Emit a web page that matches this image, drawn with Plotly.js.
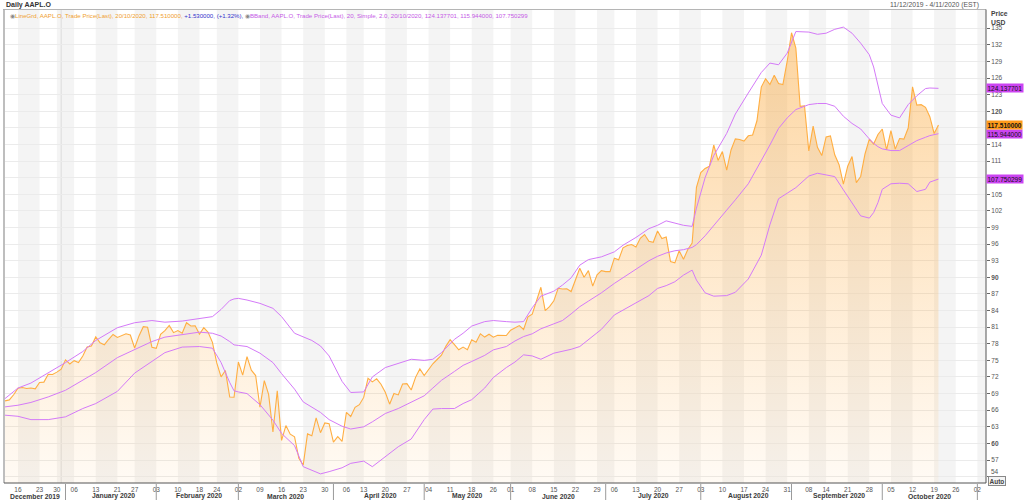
<!DOCTYPE html>
<html><head><meta charset="utf-8">
<script src="https://cdn.plot.ly/plotly-3.0.1.min.js"></script>
<style>html,body{margin:0;padding:0;background:#fff;}#chart{width:1024px;height:501px;}</style>
</head><body><div id="chart"></div>
<script>
// ---------- data ----------
const startDate = '2019-12-11';
const endDate = '2020-11-04';
const holidays = ['2019-12-25','2020-01-01','2020-01-20','2020-02-17','2020-04-10','2020-05-25','2020-07-03','2020-09-07'];

// AAPL.O daily trade price (last), one value per trading day from 2019-12-11
const closePrice = [
 67.69,67.86,68.79,69.96,70.10,69.93,70.01,69.86,71.00,71.07,72.48,72.45,72.88,73.41,
 75.09,74.36,74.95,74.60,75.80,77.41,77.58,79.24,78.17,77.83,78.81,79.68,79.14,79.43,79.81,79.58,77.24,79.42,81.08,80.97,77.38,
 77.17,79.71,80.36,81.30,80.01,80.39,79.90,81.80,81.22,81.24,79.75,80.90,80.08,78.26,74.54,72.02,73.16,68.38,68.34,
 74.70,72.33,75.68,73.23,72.26,66.54,71.33,68.86,62.06,69.49,60.55,63.22,61.67,61.19,57.31,56.09,61.72,61.38,64.61,61.94,63.70,63.57,
 60.23,61.23,60.35,65.62,64.86,66.52,67.00,68.31,71.76,71.11,71.67,70.70,69.23,67.09,69.03,68.76,70.74,70.79,69.65,71.93,73.45,
 72.27,73.29,74.39,75.16,75.94,77.53,78.75,77.85,76.91,77.39,76.93,78.74,78.29,79.81,79.21,79.72,79.18,79.53,79.56,79.49,
 80.46,80.83,81.28,80.58,82.88,83.36,86.00,88.21,83.97,84.70,85.75,88.02,87.90,87.93,87.43,89.72,91.63,90.01,91.21,88.41,90.45,91.20,
 91.03,91.03,93.46,93.17,95.34,95.75,95.92,95.48,97.06,97.73,96.52,96.33,98.36,97.00,97.27,92.85,92.62,94.81,93.25,95.04,96.19,106.26,
 108.94,109.67,110.06,113.90,111.11,112.73,109.38,113.01,115.01,114.91,114.61,115.56,115.71,118.28,124.37,125.86,124.83,126.52,125.01,124.81,129.04,
 134.18,131.40,120.88,120.96,112.82,117.32,113.49,112.00,115.36,115.54,112.13,110.34,106.84,110.08,111.81,107.12,108.22,112.28,114.96,114.09,115.81,
 116.79,113.02,116.50,113.16,115.08,114.97,116.97,124.40,121.10,121.19,120.71,119.02,115.98,117.51
];

// Bollinger band (20, Simple, 2.0) values
const bandDates = [
 '2019-12-11','2019-12-16','2019-12-19','2019-12-26','2020-01-02','2020-01-08','2020-01-13','2020-01-21','2020-01-27','2020-01-31',
 '2020-02-05','2020-02-11','2020-02-18','2020-02-21','2020-02-25','2020-02-27','2020-02-28','2020-03-02','2020-03-04','2020-03-09',
 '2020-03-12','2020-03-16','2020-03-19','2020-03-23','2020-03-25','2020-03-27','2020-03-31','2020-04-03','2020-04-07','2020-04-13',
 '2020-04-15','2020-04-20','2020-04-23','2020-04-28','2020-05-01','2020-05-05','2020-05-07','2020-05-12','2020-05-14','2020-05-18',
 '2020-05-21','2020-05-26','2020-05-29','2020-06-02','2020-06-04','2020-06-08','2020-06-10','2020-06-15','2020-06-17','2020-06-19',
 '2020-06-23','2020-06-25','2020-06-30','2020-07-06','2020-07-08','2020-07-13','2020-07-16','2020-07-20','2020-07-22','2020-07-24',
 '2020-07-28','2020-07-30','2020-07-31','2020-08-04','2020-08-06','2020-08-11','2020-08-13','2020-08-18','2020-08-21','2020-08-25',
 '2020-08-27','2020-08-31','2020-09-02','2020-09-08','2020-09-10','2020-09-14','2020-09-16','2020-09-18','2020-09-22','2020-09-24',
 '2020-09-28','2020-09-29','2020-09-30','2020-10-01','2020-10-05','2020-10-07','2020-10-09','2020-10-13','2020-10-15','2020-10-16',
 '2020-10-20'
];
const upperBand = [
 68.1,70.0,70.9,72.7,74.6,76.6,78.6,80.9,81.8,82.2,
 81.9,82.1,82.6,82.9,84.2,85.8,86.1,86.2,85.9,85.3,
 84.4,82.9,79.9,79.2,78.6,77.6,75.8,71.2,69.2,69.3,
 72.0,73.7,74.5,75.2,75.0,75.2,76.4,78.8,79.9,81.2,
 82.0,82.2,82.0,81.9,82.0,84.5,86.6,87.5,88.6,89.9,
 92.2,93.2,93.7,94.6,95.8,97.2,98.8,99.4,100.2,99.8,
 99.4,99.2,102.5,108.0,112.0,116.0,119.5,123.3,127.0,128.7,
 128.4,130.5,134.4,134.3,133.9,134.1,134.8,135.2,134.1,132.3,
 130.2,128.0,124.8,121.4,119.3,118.8,121.2,122.8,124.1,124.2,
 124.137701
];
const middleBand = [
 66.6,66.9,67.4,68.4,69.6,71.4,72.8,75.5,77.0,78.4,
 79.2,79.7,80.1,79.9,79.4,78.4,77.8,77.7,77.5,76.3,
 74.6,72.6,69.8,67.5,66.6,65.6,64.3,63.1,62.6,63.0,
 63.9,65.4,66.3,67.4,68.6,70.0,71.4,73.0,74.1,74.8,
 75.9,76.9,77.5,78.5,79.3,79.8,80.7,81.6,82.2,83.4,
 84.7,85.7,87.2,88.9,89.9,91.4,93.0,93.8,94.4,94.8,
 95.0,95.4,95.9,97.5,99.3,102.2,104.0,106.9,111.0,113.9,
 116.9,118.8,120.3,121.2,121.4,121.4,120.9,119.1,117.8,116.8,
 115.0,114.2,113.6,113.2,112.9,112.9,113.8,114.7,115.3,115.6,
 115.944
];
const lowerBand = [
 65.1,64.9,64.3,64.3,64.8,66.3,67.2,69.4,72.7,74.9,
 76.4,77.4,77.5,77.2,74.6,71.0,69.5,69.3,69.0,67.0,
 64.2,61.8,59.6,55.8,55.1,54.5,54.9,55.6,56.4,56.8,
 55.8,57.6,59.4,60.8,64.3,66.2,66.3,66.3,67.2,67.9,
 70.0,71.9,73.7,74.7,76.0,75.8,75.2,76.3,76.6,77.0,
 77.5,78.8,80.6,83.2,84.1,85.4,86.7,88.0,88.5,89.2,
 90.4,91.3,89.5,87.2,86.6,86.7,87.3,89.7,94.0,99.5,
 104.2,105.2,106.2,108.3,108.8,108.5,108.2,105.8,103.4,101.1,
 100.7,101.7,103.5,105.9,106.9,107.0,106.9,105.5,105.9,107.2,
 107.750299
];

const lastDateLabel = '20/10/2020';
const lastPrice = 117.51;
const lastChange = 1.53;
const lastChangePct = 1.32;
const lastUpper = 124.137701;
const lastMiddle = 115.944;
const lastLower = 107.750299;
const yTickValues = [54,57,60,63,66,69,72,75,78,81,84,87,90,93,96,99,102,105,108,111,114,117,120,123,126,129,132,135];
const yTicksHiddenByTags = [108, 117];
const monthNames = ['January','February','March','April','May','June','July','August','September','October','November','December'];

// ---------- helpers ----------
function tradingDays(a, b, hol) {
  const out = [];
  const d = new Date(a + 'T00:00:00Z');
  const e = new Date(b + 'T00:00:00Z');
  while (d <= e) {
    const s = d.toISOString().slice(0, 10);
    const w = d.getUTCDay();
    if (w !== 0 && w !== 6 && hol.indexOf(s) < 0) out.push(s);
    d.setUTCDate(d.getUTCDate() + 1);
  }
  return out;
}
const allDays = tradingDays(startDate, endDate, holidays);
const priceDates = allDays.slice(0, closePrice.length);

const weekStarts = [];
for (let i = 1; i < allDays.length; i++) {
  const a = new Date(allDays[i-1] + 'T00:00:00Z').getUTCDay();
  const b = new Date(allDays[i] + 'T00:00:00Z').getUTCDay();
  if (b < a) weekStarts.push(allDays[i]);
}
const monthStartIdx = [];
for (let i = 1; i < allDays.length; i++) {
  if (allDays[i].slice(5, 7) !== allDays[i-1].slice(5, 7)) monthStartIdx.push(i);
}

// plot area geometry (px)
const W = 1024, H = 501;
const M = {l: 5, r: 38, t: 10, b: 18};
const PW = W - M.l - M.r, PH = H - M.t - M.b;
const px2paperX = p => (p - M.l) / PW;
const px2paperY = p => (H - M.b - p) / PH;

const FONT = 'Liberation Sans, Arial, sans-serif';
const shapes = [];
const annotations = [];

// alternating weekly background bands
weekStarts.forEach((d, k) => {
  if (k % 2 === 0) {
    shapes.push({type: 'rect', layer: 'below', xref: 'x', yref: 'paper',
      x0: d, x1: weekStarts[k+1] || endDate, y0: 0, y1: 1,
      fillcolor: '#f4f4f4', line: {width: 0}});
  }
});
// year separator
shapes.push({type: 'line', layer: 'below', xref: 'x', yref: 'paper', x0: '2019-12-31', x1: '2019-12-31', y0: 0, y1: 1,
  line: {color: '#dcdcdc', width: 1}});
// frame: top & left
shapes.push({type: 'line', xref: 'paper', yref: 'paper', x0: px2paperX(3), x1: 1, y0: px2paperY(9.5), y1: px2paperY(9.5), line: {color: '#b5b5b5', width: 1}});
shapes.push({type: 'line', xref: 'paper', yref: 'paper', x0: px2paperX(4), x1: px2paperX(4), y0: px2paperY(9.5), y1: 0, line: {color: '#a8a8a8', width: 1.5}});
// x axis line & right axis line
shapes.push({type: 'line', xref: 'paper', yref: 'paper', x0: px2paperX(4), x1: 1, y0: 0, y1: 0, line: {color: '#555555', width: 1}});
shapes.push({type: 'line', xref: 'paper', yref: 'paper', x0: 1, x1: 1, y0: 0, y1: px2paperY(9.5), line: {color: '#555555', width: 1}});

// month separators and labels
const bounds = [0].concat(monthStartIdx);
monthStartIdx.forEach(i => {
  shapes.push({type: 'line', xref: 'x', yref: 'paper', x0: allDays[i], x1: allDays[i],
    y0: px2paperY(484), y1: px2paperY(500), line: {color: '#9a9a9a', width: 1}});
});
for (let k = 0; k < bounds.length - 1; k++) {
  const a = bounds[k], b = bounds[k+1];
  const mid = allDays[Math.round((a + b) / 2)];
  const d0 = allDays[a];
  const label = monthNames[parseInt(d0.slice(5, 7), 10) - 1] + ' ' + d0.slice(0, 4);
  annotations.push({xref: 'x', yref: 'paper', x: mid, y: px2paperY(496), text: '<b>' + label + '</b>',
    showarrow: false, xanchor: 'center', yanchor: 'middle', font: {family: FONT, size: 6.8, color: '#3a3a3a'}});
}

// header
annotations.push({xref: 'paper', yref: 'paper', x: px2paperX(4), y: px2paperY(5), text: '<b>Daily AAPL.O</b>',
  showarrow: false, xanchor: 'left', yanchor: 'middle', font: {family: FONT, size: 7, color: '#333'}});
annotations.push({xref: 'paper', yref: 'paper', x: px2paperX(981), y: px2paperY(5), text: '11/12/2019 - 4/11/2020 (EST)',
  showarrow: false, xanchor: 'right', yanchor: 'middle', font: {family: FONT, size: 6.8, color: '#555'}});

// legend line
const orange = '#f0a030', violet = '#c65ae6', blue = '#3333cc';
const sign = v => (v >= 0 ? '+' : '');
const legendText =
  '<span style="color:#888">◉</span>' +
  '<span style="color:' + orange + '">LineGrd, AAPL.O, Trade Price(Last), ' + lastDateLabel + ', ' + lastPrice.toFixed(6) + ', </span>' +
  '<span style="color:' + blue + '">' + sign(lastChange) + lastChange.toFixed(6) + ', (' + sign(lastChangePct) + lastChangePct.toFixed(2) + '%), </span>' +
  '<span style="color:#888">◉</span>' +
  '<span style="color:' + violet + '">BBand, AAPL.O, Trade Price(Last), 20, Simple, 2.0, ' + lastDateLabel + ', ' +
  lastUpper.toFixed(6) + ', ' + lastMiddle.toFixed(6) + ', ' + lastLower.toFixed(6) + '</span>';
annotations.push({xref: 'paper', yref: 'paper', x: px2paperX(8), y: px2paperY(15.5), text: legendText,
  showarrow: false, xanchor: 'left', yanchor: 'middle', font: {family: FONT, size: 6.1, color: orange}});

// right axis header
annotations.push({xref: 'paper', yref: 'paper', x: px2paperX(989), y: px2paperY(14), text: '<b>Price</b>',
  showarrow: false, xanchor: 'left', yanchor: 'middle', font: {family: FONT, size: 6.8, color: '#444'}});
annotations.push({xref: 'paper', yref: 'paper', x: px2paperX(989), y: px2paperY(23), text: '<b>USD</b>',
  showarrow: false, xanchor: 'left', yanchor: 'middle', font: {family: FONT, size: 6.8, color: '#444'}});

// bottom tick label (lifted above the Auto box, as in the reference)
annotations.push({xref: 'paper', yref: 'paper', x: 1, xshift: 3, y: px2paperY(471.5), text: String(yTickValues[0]),
  showarrow: false, xanchor: 'left', yanchor: 'middle', font: {family: FONT, size: 6.5, color: '#555'}});

// value tags
const tag = (v, bg, bold) => ({xref: 'paper', yref: 'y', x: 1, y: v, xanchor: 'left', yanchor: 'middle', xshift: 0,
  text: bold ? '<b>' + v.toFixed(6) + '</b>' : v.toFixed(6), showarrow: false, bgcolor: bg, borderpad: 0.5,
  font: {family: FONT, size: 6.5, color: '#111'}});
annotations.push(tag(lastUpper, '#cc44f2', false));
annotations.push(tag(lastLower, '#cc44f2', false));
annotations.push(tag(lastMiddle, '#cc44f2', false));
annotations.push(tag(lastPrice, '#ff9a1a', true));

// Auto box
annotations.push({xref: 'paper', yref: 'paper', x: px2paperX(988), y: px2paperY(480.5), text: '<b>Auto</b>',
  showarrow: false, xanchor: 'left', yanchor: 'middle', bordercolor: '#888', borderwidth: 1, borderpad: 0.5,
  bgcolor: '#f4f4f4', font: {family: FONT, size: 6.5, color: '#444'}});

const yTickText = yTickValues.map((v, i) => {
  if (i === 0 || yTicksHiddenByTags.indexOf(v) >= 0) return '';
  return v % 30 === 0 ? '<b>' + v + '</b>' : String(v);
});

const traces = [
  {type: 'scatter', mode: 'lines', x: priceDates, y: closePrice, name: 'LineGrd',
   line: {color: '#ffae42', width: 1.1}, fill: 'tozeroy',
   fillgradient: {type: 'vertical', start: 52, stop: 135,
     colorscale: [[0, 'rgba(255,170,60,0.05)'], [1, 'rgba(250,160,40,0.45)']]}},
  {type: 'scatter', mode: 'lines', x: bandDates, y: upperBand, name: 'Upper', line: {color: '#d47af8', width: 1}},
  {type: 'scatter', mode: 'lines', x: bandDates, y: middleBand, name: 'Middle', line: {color: '#d47af8', width: 1}},
  {type: 'scatter', mode: 'lines', x: bandDates, y: lowerBand, name: 'Lower', line: {color: '#d47af8', width: 1}}
];

const layout = {
  width: W, height: H, margin: M, paper_bgcolor: '#ffffff', plot_bgcolor: '#ffffff',
  showlegend: false, hovermode: false,
  xaxis: {type: 'date', range: [startDate, endDate],
    rangebreaks: [{bounds: ['sat', 'mon']}, {values: holidays}],
    tickmode: 'array', tickvals: weekStarts, ticktext: weekStarts.map(d => d.slice(8, 10)),
    ticks: '', showgrid: false, zeroline: false, showline: false,
    tickfont: {family: FONT, size: 6.5, color: '#555'}, ticklabelstandoff: 1},
  yaxis: {side: 'right', range: [52.85, 138.29], tickmode: 'array', tickvals: yTickValues, ticktext: yTickText,
    ticks: 'outside', ticklen: 3, tickcolor: '#666', showgrid: true, gridcolor: '#ebebeb', gridwidth: 1,
    zeroline: false, showline: false, tickfont: {family: FONT, size: 6.5, color: '#555'}, ticklabelstandoff: 0},
  shapes: shapes, annotations: annotations
};

Plotly.newPlot('chart', traces, layout, {displayModeBar: false, staticPlot: true});
</script>
</body></html>
